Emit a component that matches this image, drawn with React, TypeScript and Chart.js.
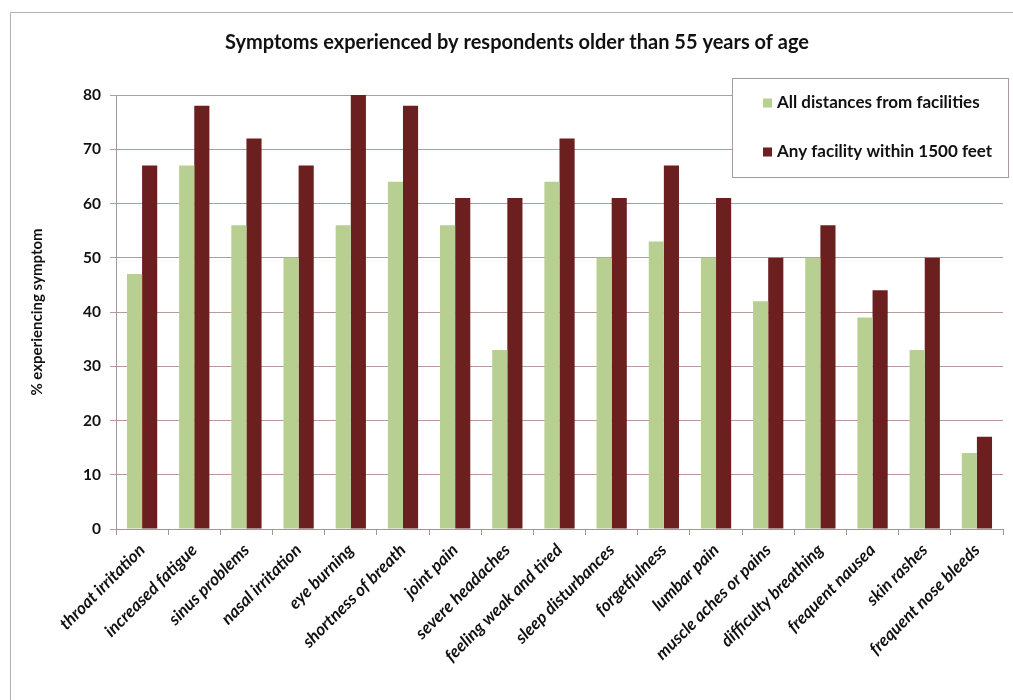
import React, { useEffect, useRef } from "react";
import { Chart, registerables } from "chart.js";

Chart.register(...registerables);

const chartTitle = "Symptoms experienced by respondents older than 55 years of age";
const yAxisTitle = "% experiencing symptom";
const seriesLabels = ["All distances from facilities", "Any facility within 1500 feet"];

const categories = [
  "throat irritation",
  "increased fatigue",
  "sinus problems",
  "nasal irritation",
  "eye burning",
  "shortness of breath",
  "joint pain",
  "severe headaches",
  "feeling weak and tired",
  "sleep disturbances",
  "forgetfulness",
  "lumbar pain",
  "muscle aches or pains",
  "difficulty breathing",
  "frequent nausea",
  "skin rashes",
  "frequent nose bleeds",
];

const allDistances = [47, 67, 56, 50, 56, 64, 56, 33, 64, 50, 53, 50, 42, 50, 39, 33, 14];
const within1500 = [67, 78, 72, 67, 80, 78, 61, 61, 72, 61, 67, 61, 50, 56, 44, 50, 17];

const yMin = 0;
const yMax = 80;
const yStep = 10;

const seriesColors = ["#b7cf90", "#6b1f1f"];
const FONT = "Lato";

export default function App() {
  const ref = useRef<HTMLCanvasElement>(null);

  useEffect(() => {
    document.body.style.margin = "0";
    const canvas = ref.current;
    if (!canvas) return;

    const framePlugin = {
      id: "frame",
      beforeDraw(chart: any) {
        const ctx = chart.ctx;
        ctx.save();
        ctx.fillStyle = "#ffffff";
        ctx.fillRect(0, 0, chart.width, chart.height);
        ctx.strokeStyle = "#b8b0b0";
        ctx.lineWidth = 1;
        ctx.strokeRect(10.5, 12.5, chart.width + 10, chart.height + 10);
        ctx.restore();
      },
      afterDraw(chart: any) {
        const ctx = chart.ctx;
        ctx.save();
        ctx.fillStyle = "#111111";
        ctx.font = `bold 20px ${FONT}`;
        ctx.textAlign = "center";
        ctx.textBaseline = "middle";
        ctx.fillText(chartTitle, 517, 43);
        ctx.restore();
      },
    };

    const boxLegendPlugin = {
      id: "boxLegend",
      afterDatasetsDraw(chart: any) {
        const ctx = chart.ctx;
        const x = 732.5;
        const y = 78.5;
        const w = 276;
        const h = 99;
        ctx.save();
        ctx.fillStyle = "#ffffff";
        ctx.fillRect(x, y, w, h);
        ctx.strokeStyle = "#a89a9a";
        ctx.lineWidth = 1;
        ctx.strokeRect(x, y, w, h);
        const rows = [103, 152];
        chart.data.datasets.forEach((ds: any, i: number) => {
          const cy = rows[i];
          ctx.fillStyle = ds.backgroundColor;
          ctx.fillRect(763, cy - 4.5, 9, 9);
          ctx.fillStyle = "#111111";
          ctx.font = `bold 17px ${FONT}`;
          ctx.textAlign = "left";
          ctx.textBaseline = "middle";
          ctx.fillText(ds.label, 777, cy);
        });
        ctx.restore();
      },
    };

    const chart = new Chart(canvas, {
      type: "bar",
      data: {
        labels: categories,
        datasets: [
          {
            label: seriesLabels[0],
            data: allDistances,
            backgroundColor: seriesColors[0],
            borderWidth: 0,
            categoryPercentage: 0.58,
            barPercentage: 1.0,
          },
          {
            label: seriesLabels[1],
            data: within1500,
            backgroundColor: seriesColors[1],
            borderWidth: 0,
            categoryPercentage: 0.58,
            barPercentage: 1.0,
          },
        ],
      },
      options: {
        responsive: false,
        animation: false,
        devicePixelRatio: 1,
        layout: { padding: { left: 0, right: 10, top: 95, bottom: 0 } },
        plugins: {
          legend: { display: false },
          tooltip: { enabled: false },
          title: { display: false },
        },
        scales: {
          x: {
            grid: {
              display: true,
              drawOnChartArea: false,
              drawTicks: true,
              tickLength: 6,
              color: "#a09595",
              offset: true,
            },
            border: { display: true, color: "#a09595" },
            ticks: {
              autoSkip: false,
              minRotation: 45,
              maxRotation: 45,
              padding: 5,
              color: "#111111",
              font: { family: FONT, size: 17, weight: "bold", style: "italic" },
            },
            afterFit: (s: any) => {
              s.height = 171;
            },
          },
          y: {
            min: yMin,
            max: yMax,
            ticks: {
              stepSize: yStep,
              padding: 9,
              color: "#111111",
              font: { family: FONT, size: 15.5, weight: "bold" },
            },
            grid: { color: "#b89a9a", tickLength: 6 },
            border: { display: true, color: "#a09595" },
            title: {
              display: true,
              text: yAxisTitle,
              color: "#111111",
              font: { family: FONT, size: 15, weight: "bold" },
              padding: { top: 28, bottom: 0 },
            },
            afterFit: (s: any) => {
              s.width = 116;
            },
          },
        },
      },
      plugins: [framePlugin, boxLegendPlugin],
    });

    return () => chart.destroy();
  }, []);

  return (
    <div style={{ width: 1013, height: 700 }}>
      <canvas ref={ref} width={1013} height={700} style={{ display: "block" }} />
    </div>
  );
}
